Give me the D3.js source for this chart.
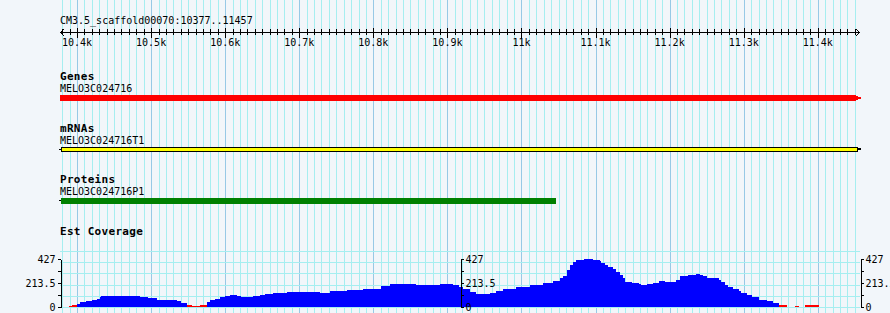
<!DOCTYPE html>
<html>

<head>
  <meta http-equiv="Content-Type" content="text/html;charset=utf-8" />
  <script src="https://cdn.jsdelivr.net/npm/d3@7"></script>
  <style type="text/css">
    body {
      margin: 0;
      background: #f2f6fa;
    }

    text {
      font-family: "DejaVu Sans Mono", monospace;
      font-size: 10px;
      fill: #000;
    }

    .track-title {
      font-weight: bold;
      font-size: 11px;
      letter-spacing: 0.3px;
    }
  </style>
</head>

<body>
  <svg id="c" width="890" height="313"></svg>

  <script>
    /***** DATA ****/

    const refName = "CM3.5_scaffold00070";
    const regionStart = 10377,
      regionEnd = 11457;

    // feature tracks
    const trackTitles = ["Genes", "mRNAs", "Proteins"];
    const featureNames = ["MELO3C024716", "MELO3C024716T1", "MELO3C024716P1"];
    const featureStarts = [10377, 10377, 10377];
    const featureEnds = [11457, 11457, 11046];

    // EST coverage, step function: value holds from covPos[i] to covPos[i+1]
    const covPos = [10389, 10393, 10400, 10404, 10412, 10420, 10427, 10431, 10433, 10449,
      10471, 10485, 10496, 10508, 10521, 10535, 10541, 10548, 10555, 10566,
      10575, 10580, 10586, 10593, 10600, 10607, 10616, 10622, 10638, 10647,
      10654, 10665, 10683, 10705, 10712, 10728, 10735, 10741, 10750, 10764,
      10786, 10811, 10823, 10858, 10876, 10890, 10908, 10915, 10921, 10930,
      10939, 10957, 10966, 10975, 10993, 11011, 11029, 11043, 11052, 11056,
      11061, 11065, 11070, 11074, 11085, 11097, 11106, 11108, 11113, 11117,
      11124, 11128, 11133, 11137, 11140, 11149, 11153, 11158, 11162, 11169,
      11178, 11185, 11194, 11209, 11214, 11221, 11225, 11236, 11241, 11245,
      11250, 11259, 11266, 11270, 11275, 11279, 11286, 11293, 11297, 11304,
      11311, 11320, 11331, 11340, 11348, 11358, 11369, 11374, 11383, 11401];
    const covValues = [10, 20, 30, 41, 50, 59, 71, 85, 94, 100,
      94, 85, 77, 65, 59, 50, 36, 20, 10, 20,
      41, 59, 74, 86, 100, 109, 100, 92, 95, 107,
      116, 121, 130, 136, 130, 121, 127, 140, 146, 151,
      160, 190, 204, 195, 198, 204, 192, 175, 160, 137,
      116, 122, 140, 157, 175, 198, 210, 228, 258, 280,
      332, 370, 400, 420, 427, 415, 406, 391, 370, 352,
      341, 311, 288, 258, 225, 216, 210, 201, 196, 201,
      213, 231, 225, 243, 272, 278, 288, 296, 288, 278,
      261, 255, 243, 222, 196, 175, 163, 142, 124, 104,
      86, 62, 50, 36, 15, 0, 12, 0, 15, 0];
    const covMax = 427;
    const covTicks = [0, 106.75, 213.5, 320.25, 427];
    const covLabels = [0, 213.5, 427];
    const lowCoverage = 25;

    /***** DRAWING ****/

    const width = 890,
      height = 313;

    const svg = d3.select("#c");

    const x = d3.scaleLinear()
      .domain([regionStart, regionEnd])
      .range([60, 860]);

    const px = v => Math.round(x(v)) + 0.5;

    // background
    svg.append("rect")
      .attr("width", width)
      .attr("height", height)
      .attr("fill", "#f2f6fa");

    // vertical grid, every 10 bp, darker every 100
    const gridPos = d3.range(Math.ceil(regionStart / 10) * 10, regionEnd, 10);
    svg.append("g")
      .selectAll("line")
      .data(gridPos)
      .join("line")
      .attr("x1", d => px(d))
      .attr("x2", d => px(d))
      .attr("y1", 0)
      .attr("y2", height)
      .attr("stroke", d => d % 100 === 0 ? "#97c9e6" : "#a6eef0")
      .attr("stroke-width", 1);

    // ruler
    const ruler = svg.append("g").attr("stroke", "#000").attr("shape-rendering", "crispEdges");
    const ry = 32.5;

    svg.append("text")
      .attr("x", 60)
      .attr("y", 24)
      .text(`${refName}:${regionStart}..${regionEnd}`);

    ruler.append("line")
      .attr("x1", x(regionStart)).attr("x2", x(regionEnd))
      .attr("y1", ry).attr("y2", ry);

    ruler.append("path")
      .attr("fill", "none")
      .attr("shape-rendering", "auto")
      .attr("d", `M${x(regionStart) + 4},${ry - 3.5}L${x(regionStart) + 0.5},${ry}L${x(regionStart) + 4},${ry + 3.5}` +
        `M${x(regionEnd) - 4},${ry - 3.5}L${x(regionEnd) - 0.5},${ry}L${x(regionEnd) - 4},${ry + 3.5}`);

    ruler.selectAll(".tick")
      .data(gridPos)
      .join("line")
      .attr("x1", d => px(d))
      .attr("x2", d => px(d))
      .attr("y1", d => d % 100 === 0 ? 28 : 29)
      .attr("y2", d => d % 100 === 0 ? 38 : 35);

    svg.append("g")
      .selectAll("text")
      .data(gridPos.filter(d => d % 100 === 0))
      .join("text")
      .attr("x", d => x(d))
      .attr("y", 46)
      .attr("text-anchor", "middle")
      .text(d => (d / 1000) + "k");

    // feature tracks
    const titleY = [80, 132, 183];
    const nameY = [92, 144, 195];
    const barY = [95, 147, 198];

    trackTitles.forEach((t, i) => {
      svg.append("text")
        .attr("class", "track-title")
        .attr("x", 60)
        .attr("y", titleY[i])
        .text(t);
      svg.append("text")
        .attr("x", 60)
        .attr("y", nameY[i])
        .text(featureNames[i]);
    });

    const feat = svg.append("g").attr("shape-rendering", "crispEdges");

    // gene: red bar with stepped arrow tip
    feat.append("rect")
      .attr("x", x(featureStarts[0]))
      .attr("y", barY[0])
      .attr("width", x(featureEnds[0]) - x(featureStarts[0]) - 4)
      .attr("height", 6)
      .attr("fill", "#ff0000");
    feat.append("rect")
      .attr("x", x(featureEnds[0]) - 4).attr("y", barY[0] + 1)
      .attr("width", 2).attr("height", 4)
      .attr("fill", "#ff0000");
    feat.append("rect")
      .attr("x", x(featureEnds[0]) - 2).attr("y", barY[0] + 2)
      .attr("width", 3).attr("height", 2)
      .attr("fill", "#ff0000");

    // mRNA: yellow box with black outline
    feat.append("rect")
      .attr("x", x(featureStarts[1]) - 1).attr("y", barY[1] + 2)
      .attr("width", 2).attr("height", 1)
      .attr("fill", "#000");
    feat.append("rect")
      .attr("x", x(featureStarts[1]) + 1.5)
      .attr("y", barY[1] + 0.5)
      .attr("width", x(featureEnds[1]) - x(featureStarts[1]) - 4)
      .attr("height", 4)
      .attr("fill", "#ffff00")
      .attr("stroke", "#000");
    feat.append("rect")
      .attr("x", x(featureEnds[1]) - 3).attr("y", barY[1] + 1)
      .attr("width", 4).attr("height", 2)
      .attr("fill", "#000");

    // protein: green bar
    feat.append("rect")
      .attr("x", x(featureStarts[2]) - 1).attr("y", barY[2] + 2)
      .attr("width", 2).attr("height", 1)
      .attr("fill", "#000");
    feat.append("rect")
      .attr("x", x(featureStarts[2]) + 1)
      .attr("y", barY[2])
      .attr("width", x(featureEnds[2]) - x(featureStarts[2]) - 1)
      .attr("height", 6)
      .attr("fill", "#008000");

    // EST coverage
    svg.append("text")
      .attr("class", "track-title")
      .attr("x", 60)
      .attr("y", 235)
      .text("Est Coverage");

    const y = d3.scaleLinear()
      .domain([0, covMax])
      .range([307, 259]);

    svg.append("g")
      .selectAll("line")
      .data(d3.range(0, 501, 100))
      .join("line")
      .attr("x1", x(regionStart))
      .attr("x2", x(regionEnd))
      .attr("y1", d => Math.round(y(d)) + 0.5)
      .attr("y2", d => Math.round(y(d)) + 0.5)
      .attr("stroke", "#a6eef0");

    const bins = covPos.slice(0, -1).map((p, i) => ({ s: p, e: covPos[i + 1], v: covValues[i] }));

    svg.append("g")
      .attr("shape-rendering", "crispEdges")
      .selectAll("rect")
      .data(bins.filter(d => d.v > 0))
      .join("rect")
      .attr("x", d => x(d.s))
      .attr("width", d => x(d.e) - x(d.s))
      .attr("y", d => y(d.v))
      .attr("height", d => y(0) - y(d.v))
      .attr("fill", d => d.v < lowCoverage ? "#ff0000" : "#0000ff");

    const fmt = d => covLabels.includes(d) ? String(d) : "";
    const axes = [
      d3.axisLeft(y).tickValues(covTicks).tickSize(3).tickSizeOuter(0).tickPadding(2).tickFormat(fmt),
      d3.axisRight(y).tickValues(covTicks).tickSize(3).tickSizeOuter(0).tickPadding(2).tickFormat(fmt),
      d3.axisRight(y).tickValues(covTicks).tickSize(3).tickSizeOuter(0).tickPadding(2).tickFormat(fmt)
    ];
    const axisX = [regionStart, (regionStart + regionEnd) / 2, regionEnd];

    axes.forEach((a, i) => {
      const g = svg.append("g")
        .attr("transform", `translate(${Math.round(x(axisX[i])) + 0.5},0)`)
        .attr("shape-rendering", "crispEdges")
        .call(a);
      g.selectAll("text")
        .style("font-family", "'DejaVu Sans Mono', monospace")
        .style("font-size", "10px");
      g.select(".domain").attr("stroke", "#000");
    });
  </script>
</body>

</html>
